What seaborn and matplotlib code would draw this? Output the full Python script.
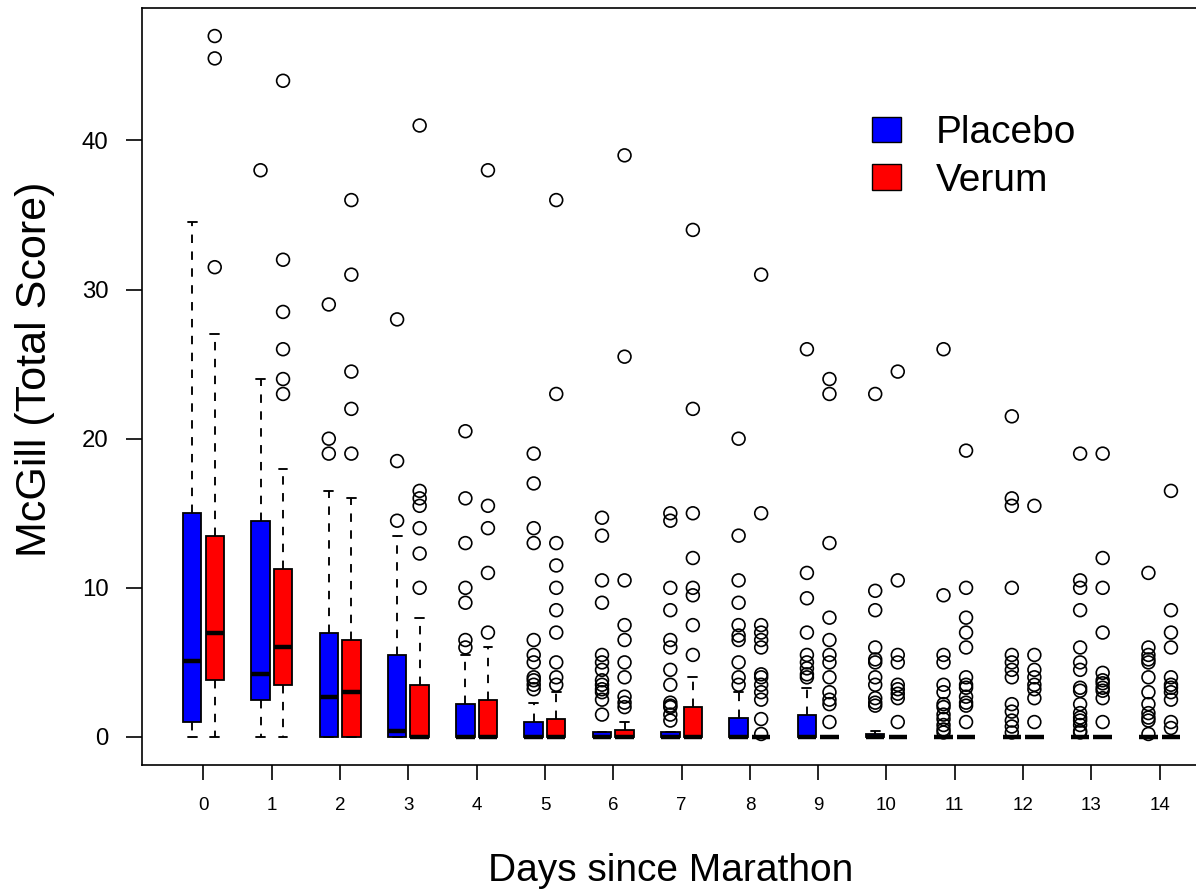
import numpy as np
import pandas as pd
import matplotlib
matplotlib.use("Agg")
import matplotlib.pyplot as plt
from matplotlib.patches import Patch
import seaborn as sns

# ---------------- data ----------------
days = list(range(15))
groups = ["Placebo", "Verum"]
group_colors = ["#0000FF", "#FF0000"]

placebo_q1 = [1.0, 2.5, 0, 0, 0, 0, 0, 0, 0, 0, 0, 0, 0, 0, 0]
placebo_med = [5.1, 4.25, 2.7, 0.4, 0, 0, 0, 0, 0, 0, 0, 0, 0, 0, 0]
placebo_q3 = [15.0, 14.5, 7.0, 5.5, 2.2, 1.0, 0.3, 0.3, 1.3, 1.5, 0.2, 0, 0, 0, 0]
placebo_lo = [0] * 15
placebo_hi = [34.5, 24.0, 16.5, 13.5, 5.5, 2.25, 0.3, 0.3, 3.0, 3.3, 0.4, 0, 0, 0, 0]

verum_q1 = [3.85, 3.5, 0, 0, 0, 0, 0, 0, 0, 0, 0, 0, 0, 0, 0]
verum_med = [7.0, 6.0, 3.0, 0, 0, 0, 0, 0, 0, 0, 0, 0, 0, 0, 0]
verum_q3 = [13.5, 11.25, 6.5, 3.5, 2.5, 1.2, 0.5, 2.0, 0, 0, 0, 0, 0, 0, 0]
verum_lo = [0] * 15
verum_hi = [27.0, 18.0, 16.0, 8.0, 6.0, 3.0, 1.0, 4.0, 0, 0, 0, 0, 0, 0, 0]

placebo_outliers = [
    [],
    [38],
    [29, 20, 19],
    [28, 18.5, 14.5],
    [20.5, 16, 13, 10, 9, 6.5, 6],
    [19, 17, 14, 13, 6.5, 5.5, 5, 4, 3.8, 3.5, 3.2],
    [14.7, 13.5, 10.5, 9, 5.5, 5, 4.5, 3.8, 3.5, 3.2, 3, 2.5, 1.5],
    [15, 14.5, 10, 8.5, 6.5, 6, 4.5, 3.5, 2.3, 2.1, 2, 1.5, 1.1],
    [20, 13.5, 10.5, 9, 7.5, 6.8, 6.5, 5, 4, 3.5],
    [26, 11, 9.3, 7, 5.5, 5, 4.6, 4.2, 4],
    [23, 9.8, 8.5, 6, 5.2, 5, 4, 3.5, 2.6, 2.3, 2.1],
    [26, 9.5, 5.5, 5, 3.5, 3, 2.2, 2, 1.5, 1.2, 0.8, 0.5, 0.3],
    [21.5, 16, 15.5, 10, 5.5, 5, 4.5, 4, 2.2, 1.7, 1.1, 0.7, 0.3],
    [19, 10.5, 10, 8.5, 6, 5, 4.5, 3.3, 3.1, 2.2, 1.6, 1.3, 1.1, 0.8, 0.4, 0.3],
    [11, 6, 5.5, 5.2, 5, 4, 3, 2.2, 1.6, 1.3, 1.1, 0.2],
]
verum_outliers = [
    [47, 45.5, 31.5],
    [44, 32, 28.5, 26, 24, 23],
    [36, 31, 24.5, 22, 19],
    [41, 16.5, 16, 15.5, 14, 12.3, 10],
    [38, 15.5, 14, 11, 7],
    [36, 23, 13, 11.5, 10, 8.5, 7, 5, 4, 3.5],
    [39, 25.5, 10.5, 7.5, 6.5, 5, 4, 2.7, 2.3, 2],
    [34, 22, 15, 12, 10, 9.5, 7.5, 5.5],
    [31, 15, 7.5, 7, 6.5, 6, 4.2, 4, 3.5, 3, 2.5, 1.2, 0.2],
    [24, 23, 13, 8, 6.5, 5.5, 5, 4, 3, 2.5, 2.2, 1],
    [24.5, 10.5, 5.5, 5, 3.5, 3.2, 2.9, 2.6, 1],
    [19.2, 10, 8, 7, 6, 4, 3.5, 3.3, 2.7, 2.3, 2.1, 1],
    [15.5, 5.5, 4.5, 4, 3.5, 3.2, 2.6, 1],
    [19, 12, 10, 7, 4.3, 3.8, 3.6, 3.3, 3.1, 2.6, 1],
    [16.5, 8.5, 7, 6, 4, 3.5, 3.3, 3, 2.5, 1, 0.6],
]

yticks = [0, 10, 20, 30, 40]

# ---------------- style ----------------
sns.set_style("ticks")
plt.rcParams['font.family'] = ['Liberation Sans', 'DejaVu Sans']
plt.rcParams['text.color'] = 'black'
plt.rcParams['axes.labelcolor'] = 'black'
plt.rcParams['xtick.color'] = 'black'
plt.rcParams['ytick.color'] = 'black'

W, H = 1196, 892
fig = plt.figure(figsize=(W / 100, H / 100), dpi=100)
ax = fig.add_axes([142 / W, (H - 765) / H, (1200 - 142) / W, (765 - 8) / H])

offset = 0.165
box_w = 0.27


def make_stats(q1, med, q3, lo, hi):
    return [dict(med=m, q1=a, q3=b, whislo=l, whishi=h, fliers=[])
            for a, m, b, l, h in zip(q1, med, q3, lo, hi)]


stats_sets = [
    make_stats(placebo_q1, placebo_med, placebo_q3, placebo_lo, placebo_hi),
    make_stats(verum_q1, verum_med, verum_q3, verum_lo, verum_hi),
]
offsets = [-offset, offset]

for stats, off, col in zip(stats_sets, offsets, group_colors):
    ax.bxp(stats, positions=np.array(days) + off, widths=box_w,
           capwidths=box_w * 0.48, patch_artist=True, showfliers=False,
           manage_ticks=False,
           boxprops=dict(facecolor=col, edgecolor="black", linewidth=1.3),
           medianprops=dict(color="black", linewidth=3.2, solid_capstyle="butt"),
           whiskerprops=dict(color="black", linewidth=1.35, linestyle=(0, (4.5, 4.5))),
           capprops=dict(color="black", linewidth=1.35))

# outliers
rows = []
for g, outs, off in zip(groups, [placebo_outliers, verum_outliers], offsets):
    for d, vals in zip(days, outs):
        for v in vals:
            rows.append({"x": d + off, "y": v, "group": g})
df_out = pd.DataFrame(rows)
sns.scatterplot(data=df_out, x="x", y="y", ax=ax, marker="o", s=85,
                facecolor="none", edgecolor="black", linewidth=1.2,
                legend=False, zorder=5)

ax.set_xlim(-0.9, 14.59)
ax.set_ylim(-1.88, 48.88)
ax.set_xticks(days)
ax.set_xticklabels([str(d) for d in days], fontsize=13.5)
ax.set_yticks(yticks)
ax.set_yticklabels([str(v) for v in yticks], fontsize=17.3)
ax.tick_params(axis="x", length=11, width=1.2, pad=12, color="black")
ax.tick_params(axis="y", length=11.5, width=1.2, pad=12.5, color="black")
for s in ax.spines.values():
    s.set_color("black")
    s.set_linewidth(1.2)

ax.set_xlabel("Days since Marathon", fontsize=28, labelpad=28)
ax.set_ylabel("McGill (Total Score)", fontsize=31)
ax.yaxis.label.set_verticalalignment("center")
ax.yaxis.set_label_coords((35 - 142) / 1058, (765 - 369) / 757)

handles = [Patch(facecolor=c, edgecolor="black", linewidth=1.0) for c in group_colors]
ax.legend(handles, groups, loc="upper left",
          bbox_to_anchor=(872 / W, 1 - 115 / H), bbox_transform=fig.transFigure,
          frameon=False, fontsize=28, handlelength=0.75, handleheight=0.62,
          handletextpad=0.9, labelspacing=0.3, borderpad=0, borderaxespad=0)

fig.savefig("out.png", dpi=100)
